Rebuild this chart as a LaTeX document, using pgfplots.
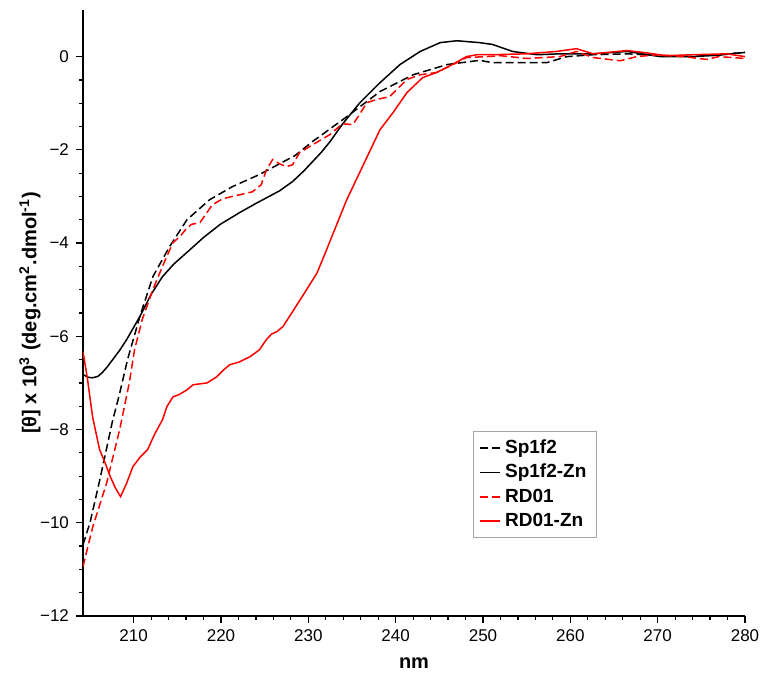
\documentclass[border=0pt]{standalone}
\usepackage{fontspec}
\setmainfont{Liberation Sans}
\usepackage{pgfplots}
\pgfplotsset{compat=1.18}

% CD spectra, values
\pgfplotstableread{
x y
204.2 -10.47
205.0 -10.0
206.1 -9.1
207.6 -7.8
208.3 -7.3
209.3 -6.5
210.7 -5.58
212.2 -4.72
214.1 -4.08
216.1 -3.5
218.7 -3.07
221.3 -2.79
224.4 -2.53
226.7 -2.3
228.5 -2.12
230.5 -1.82
234.4 -1.29
238.2 -0.75
242.0 -0.39
245.9 -0.17
249.6 -0.08
251.1 -0.13
255.0 -0.13
257.3 -0.13
259.6 0.0
262.6 0.04
266.5 0.06
270.3 0.02
274.0 0.0
277.9 0.06
280.0 0.09
}\spdata

\pgfplotstableread{
x y
204.2 -6.82
204.8 -6.88
205.3 -6.89
205.9 -6.86
206.4 -6.78
207.0 -6.65
207.6 -6.5
208.4 -6.3
209.2 -6.07
210.7 -5.58
212.0 -5.1
213.3 -4.72
214.6 -4.45
216.1 -4.2
218.0 -3.88
219.9 -3.6
222.1 -3.35
224.0 -3.15
225.9 -2.96
226.7 -2.88
228.2 -2.68
229.5 -2.45
230.5 -2.25
231.5 -2.05
232.5 -1.82
233.9 -1.45
235.9 -0.99
238.2 -0.56
240.5 -0.17
242.8 0.11
245.1 0.3
247.0 0.34
249.6 0.3
251.1 0.26
253.4 0.11
256.2 0.04
258.8 0.06
262.6 0.06
266.5 0.11
270.3 0.0
274.0 0.0
277.0 0.03
280.0 0.09
}\spzndata

\pgfplotstableread{
x y
204.2 -10.94
205.3 -10.1
206.9 -9.15
208.4 -8.0
209.5 -7.0
210.1 -6.29
211.0 -5.63
212.2 -5.0
213.3 -4.5
214.5 -3.99
215.3 -3.86
216.0 -3.7
216.6 -3.6
217.6 -3.56
219.0 -3.18
220.2 -3.05
221.3 -3.0
223.6 -2.9
224.6 -2.75
225.2 -2.43
225.9 -2.21
226.7 -2.3
227.5 -2.36
228.2 -2.32
229.0 -2.06
230.5 -1.89
232.5 -1.67
233.9 -1.44
235.1 -1.46
236.0 -1.2
236.7 -0.99
237.8 -0.92
239.3 -0.86
241.3 -0.49
242.8 -0.39
244.7 -0.34
247.0 -0.13
248.1 -0.02
250.4 0.0
252.0 0.02
255.0 -0.04
258.8 0.0
260.7 0.11
262.6 -0.02
265.7 -0.09
267.6 0.0
270.0 0.04
273.0 0.0
275.6 -0.06
277.0 0.0
280.0 -0.04
}\rddata

\pgfplotstableread{
x y
204.2 -6.33
204.7 -6.9
205.3 -7.73
206.1 -8.43
206.7 -8.7
207.3 -9.0
207.9 -9.25
208.5 -9.44
209.2 -9.15
209.9 -8.8
210.7 -8.6
211.6 -8.43
212.4 -8.1
213.3 -7.79
213.8 -7.51
214.5 -7.3
215.2 -7.25
216.1 -7.15
216.8 -7.04
218.4 -7.0
219.5 -6.87
220.3 -6.72
221.0 -6.61
222.1 -6.55
223.3 -6.44
224.4 -6.29
225.2 -6.07
225.8 -5.95
226.4 -5.9
227.1 -5.79
228.2 -5.47
229.8 -5.0
231.0 -4.64
232.1 -4.14
232.5 -3.95
234.4 -3.07
236.2 -2.36
238.2 -1.57
239.7 -1.2
241.3 -0.77
243.1 -0.45
244.7 -0.34
246.5 -0.17
248.1 0.0
249.3 0.04
251.0 0.04
255.0 0.06
258.4 0.11
260.7 0.17
262.6 0.06
266.5 0.13
268.3 0.09
271.0 0.02
274.0 0.04
277.9 0.06
280.0 0.0
}\rdzndata

\begin{document}
\begin{tikzpicture}
\useasboundingbox (-41.5pt,-31pt) rectangle (340.5pt,308pt);
\begin{axis}[
    at={(0,0)}, anchor=south west,
    scale only axis,
    width=331pt, height=303pt,
    xmin=204.2, xmax=280,
    ymin=-12, ymax=1,
    axis lines*=left,
    axis line style={line width=0.75pt},
    tick align=outside,
    major tick length=3.5pt,
    minor tick length=2pt,
    every tick/.style={black, line width=0.6pt},
    xtick={210,220,...,280},
    xticklabels={210,220,230,240,250,260,270,280},
    minor x tick num=4,
    ytick={-12,-10,...,0},
    yticklabels={−12,−10,−8,−6,−4,−2,0},
    minor y tick num=3,
    ticklabel style={font=\fontsize{8.5}{9.5}\selectfont},
    xlabel={\textbf{nm}},
    ylabel={\textbf{[θ] x 10\textsuperscript{3} (deg.cm\textsuperscript{2}.dmol\textsuperscript{-1})}},
    label style={font=\fontsize{9}{10}\selectfont},
    every axis x label/.style={at={(rel axis cs:0.5,0)}, yshift=-23.5pt, anchor=center},
    every axis y label/.style={at={(rel axis cs:0,0.5)}, xshift=-26.5pt, rotate=90, anchor=center},
    legend style={at={(0.589,0.129)}, anchor=south west, draw=gray!70,
        font=\bfseries\fontsize{9.5}{11}\selectfont, inner xsep=3pt, inner ysep=2pt},
    legend cell align=left,
    legend image code/.code={\draw[#1, line width=0.9pt] (0pt,0pt) -- (10pt,0pt);},
]
\addplot[black, line width=0.75pt, dash pattern=on 4pt off 2pt] table {\spdata};
\addplot[black, line width=0.75pt] table {\spzndata};
\addplot[red, line width=0.75pt, dash pattern=on 4pt off 2pt] table {\rddata};
\addplot[red, line width=0.75pt] table {\rdzndata};
\legend{Sp1f2, Sp1f2-Zn, RD01, RD01-Zn}
\end{axis}
\end{tikzpicture}
\end{document}
